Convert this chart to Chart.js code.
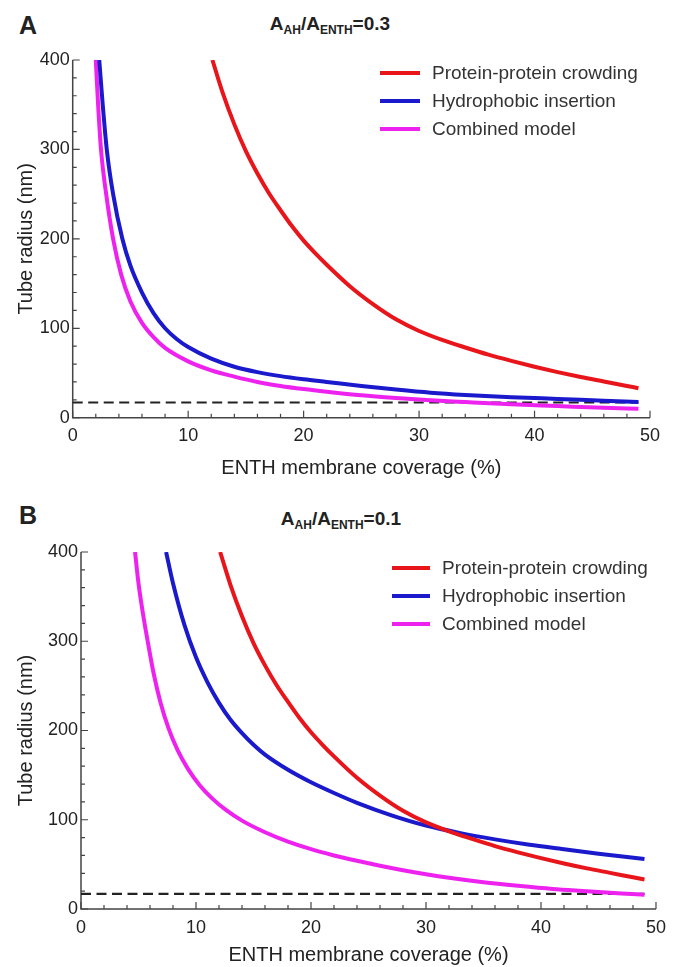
<!DOCTYPE html>
<html>
<head>
<meta charset="utf-8">
<script src="https://cdn.jsdelivr.net/npm/chart.js@4.4.0/dist/chart.umd.min.js"></script>
<style>
  body { margin: 0; background: #fff; width: 674px; height: 967px; position: relative; overflow: hidden;
         font-family: "Liberation Sans", Arial, Helvetica, sans-serif; color: #222; }
  canvas { position: absolute; left: 0; }
  .letter { position: absolute; font-weight: bold; font-size: 25px; line-height: 1; transform: translate(-50%, -50%); }
  .title { position: absolute; font-weight: bold; font-size: 19px; line-height: 1; white-space: nowrap; transform: translate(-50%, -50%); }
  .title sub { font-size: 12px; vertical-align: -4px; }
  .legend { position: absolute; font-size: 19px; color: #333; }
  .legend .row { position: relative; height: 28px; line-height: 28px; white-space: nowrap; }
  .legend .swatch { display: inline-block; width: 40px; height: 4px; vertical-align: middle; margin-right: 12px; position: relative; top: -1px; }
</style>
</head>
<body>
<div class="letter" style="left:28px; top:25px;">A</div>
<div class="title" style="left:330px; top:25px;">A<sub>AH</sub>/A<sub>ENTH</sub>=0.3</div>
<canvas id="chartA" width="674" height="440" style="top:40px"></canvas>
<div class="legend" id="legendA" style="left:380px; top:59px;"></div>

<div class="letter" style="left:28px; top:515px;">B</div>
<div class="title" style="left:341px; top:520px;">A<sub>AH</sub>/A<sub>ENTH</sub>=0.1</div>
<canvas id="chartB" width="674" height="477" style="top:490px"></canvas>
<div class="legend" id="legendB" style="left:392px; top:554px;"></div>

<script>
// tick labels
const xTickLabels = [0, 10, 20, 30, 40, 50];
const yTickLabels = [0, 100, 200, 300, 400];

const seriesNames = ["Protein-protein crowding", "Hydrophobic insertion", "Combined model"];

// protein-protein crowding (same curve in both panels)
const crowdingX = [12.1, 13, 14, 15, 16, 17, 18, 19, 20, 21, 22, 24, 26, 28, 30, 32, 34, 36, 38, 40, 42, 44, 46, 48, 49];
const crowdingR = [400, 363, 328, 298, 273, 251, 232, 214, 198, 184, 171, 147, 127, 110, 97, 87, 78.5, 70.5, 63.5, 57, 51, 45.5, 40.5, 35.5, 33];

// panel A, A_AH/A_ENTH = 0.3
const insertionXA = [2.3, 2.6, 2.95, 3.5, 4.3, 5, 6, 7, 8, 9, 10, 12, 14, 16, 18, 20, 22, 25, 28, 31, 34, 38, 42, 46, 49];
const insertionRA = [400, 350, 300, 250, 200, 170, 140, 117, 100, 88, 79, 66, 57, 51, 46.5, 43, 40, 35.5, 31.5, 28, 25.5, 23, 21, 19, 17.5];
const combinedXA = [2.0, 2.2, 2.45, 2.9, 3.5, 4.2, 5, 6, 7, 8, 10, 12, 14, 16, 18, 20, 22, 25, 28, 31, 34, 38, 42, 46, 49];
const combinedRA = [400, 350, 300, 250, 200, 160, 130, 106, 90, 78, 63, 53, 46, 40, 35.5, 32, 29, 25, 22, 19.5, 17.5, 15, 13, 11, 10];

// panel B, A_AH/A_ENTH = 0.1
const insertionXB = [7.4, 8, 9, 10, 11, 12, 13, 14, 15, 16, 18, 20, 22, 24, 27, 30, 33, 36, 39, 42, 45, 49];
const insertionRB = [400, 365, 318, 282, 254, 231, 212, 197, 184, 173, 156, 142, 130, 119, 105, 93.5, 85, 78, 72, 67, 62, 56];
const combinedXB = [4.7, 5.0, 5.4, 5.8, 6.3, 6.9, 7.6, 8.4, 9.3, 10.3, 11.4, 12.6, 14, 16, 18, 20, 22, 24, 26, 28, 30, 32, 35, 38, 41, 44, 47, 49];
const combinedRB = [400, 365, 330, 300, 265, 232, 203, 178, 157, 139, 124, 111, 99, 86, 75.5, 67, 60, 54, 48.5, 43.5, 39, 35, 30, 26, 22.5, 20, 17.5, 16];

// dashed reference radius
const refX = [0, 49];
const refR = [17, 17];

const colors = ["#e8151b", "#1a1acc", "#ee22ee"];
const fontFamily = '"Liberation Sans", Arial, Helvetica, sans-serif';

function pts(xs, ys) {
	return xs.map((x, i) => ({x: x, y: ys[i]}));
}

// Mathematica style frame: left and bottom axis, ticks pointing inward
const frameAxes = {
	id: "frameAxes",
	beforeDatasetsDraw(chart) {
		const ctx = chart.ctx;
		const a = chart.chartArea;
		const x = chart.scales.x;
		const y = chart.scales.y;
		ctx.save();
		ctx.strokeStyle = "#444";
		ctx.lineWidth = 1.5;
		ctx.beginPath();
		ctx.moveTo(a.left, a.top);
		ctx.lineTo(a.left, a.bottom);
		ctx.lineTo(a.right, a.bottom);
		ctx.stroke();
		ctx.lineWidth = 1.2;
		ctx.beginPath();
		x.ticks.forEach(t => {
			const px = x.getPixelForValue(t.value);
			const len = xTickLabels.includes(t.value) ? 7 : 4;
			ctx.moveTo(px, a.bottom);
			ctx.lineTo(px, a.bottom - len);
		});
		y.ticks.forEach(t => {
			const py = y.getPixelForValue(t.value);
			const len = yTickLabels.includes(t.value) ? 7 : 4;
			ctx.moveTo(a.left, py);
			ctx.lineTo(a.left + len, py);
		});
		ctx.stroke();
		ctx.restore();
	}
};

function makePanel(id, curves, lay) {
	const datasets = curves.map((c, i) => ({
		label: seriesNames[i],
		data: pts(c[0], c[1]),
		borderColor: colors[i],
		borderWidth: 4,
		pointRadius: 0,
		cubicInterpolationMode: "monotone",
		fill: false
	}));
	datasets.push({
		label: "reference",
		data: pts(refX, refR),
		borderColor: "#222",
		borderWidth: 2.2,
		borderDash: [10, 5.5],
		pointRadius: 0,
		fill: false
	});
	return new Chart(document.getElementById(id).getContext("2d"), {
		type: "line",
		data: {datasets: datasets},
		options: {
			responsive: false,
			animation: false,
			events: [],
			layout: {padding: {top: lay.top, right: lay.right, left: 0, bottom: 0}},
			plugins: {legend: {display: false}, tooltip: {enabled: false}},
			scales: {
				x: {
					type: "linear",
					min: 0,
					max: 50,
					afterFit: s => { s.height = lay.xH; },
					grid: {display: false, drawTicks: false},
					border: {display: false},
					ticks: {
						stepSize: 2,
						autoSkip: false,
						maxRotation: 0,
						padding: 8,
						color: "#222",
						font: {size: 18, family: fontFamily},
						callback: v => xTickLabels.includes(v) ? v : ""
					},
					title: {
						display: true,
						text: "ENTH membrane coverage (%)",
						color: "#222",
						font: {size: 20, family: fontFamily},
						padding: {top: 0, bottom: lay.xTitlePad}
					}
				},
				y: {
					type: "linear",
					min: 0,
					max: 400,
					afterFit: s => { s.width = lay.yW; },
					grid: {display: false, drawTicks: false},
					border: {display: false},
					ticks: {
						stepSize: 20,
						autoSkip: false,
						padding: 3,
						color: "#222",
						font: {size: 18, family: fontFamily},
						callback: v => yTickLabels.includes(v) ? v : ""
					},
					title: {
						display: true,
						text: "Tube radius (nm)",
						color: "#222",
						font: {size: 20, family: fontFamily},
						padding: {top: 14, bottom: 0}
					}
				}
			}
		},
		plugins: [frameAxes]
	});
}

function makeLegend(id, width) {
	const box = document.getElementById(id);
	seriesNames.forEach((name, i) => {
		const row = document.createElement("div");
		row.className = "row";
		const sw = document.createElement("span");
		sw.className = "swatch";
		sw.style.background = colors[i];
		sw.style.width = width + "px";
		row.appendChild(sw);
		row.appendChild(document.createTextNode(name));
		box.appendChild(row);
	});
}

makePanel("chartA", [[crowdingX, crowdingR], [insertionXA, insertionRA], [combinedXA, combinedRA]],
	{top: 20, right: 24, xH: 62.3, yW: 72.7, xTitlePad: 0});
makePanel("chartB", [[crowdingX, crowdingR], [insertionXB, insertionRB], [combinedXB, combinedRB]],
	{top: 62, right: 13, xH: 58, yW: 81, xTitlePad: 0});
makeLegend("legendA", 40);
makeLegend("legendB", 38);
</script>
</body>
</html>
